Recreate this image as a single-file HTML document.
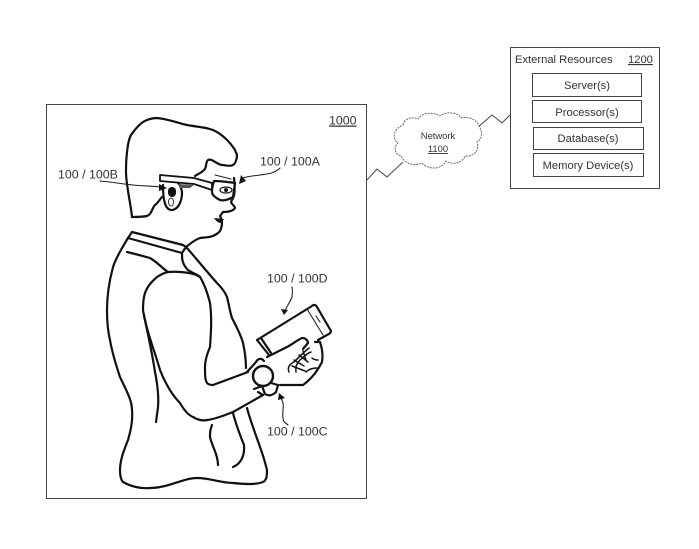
<!DOCTYPE html>
<html><head><meta charset="utf-8"><style>
html,body{margin:0;padding:0;background:#fff}
svg{display:block}
text{font-family:"Liberation Sans",sans-serif;fill:#333}
.b{fill:none;stroke:#111;stroke-width:2.2;stroke-linecap:round;stroke-linejoin:round}
.t{fill:none;stroke:#222;stroke-width:1.1;stroke-linecap:round;stroke-linejoin:round}
.f{fill:none;stroke:#111;stroke-width:1.5;stroke-linecap:round;stroke-linejoin:round}
.g{fill:none;stroke:#444;stroke-width:1}
</style></head><body>
<svg width="699" height="549" viewBox="0 0 699 549" xmlns="http://www.w3.org/2000/svg">
<rect class="g" x="46.5" y="104.5" width="320" height="394"/>
<text x="329" y="124.500" font-size="12.4" text-decoration="underline">1000</text>
<text x="260" y="165.500" font-size="12.4">100 / 100A</text>
<text x="58" y="178.500" font-size="12.4">100 / 100B</text>
<text x="267" y="282.500" font-size="12.4">100 / 100D</text>
<text x="267" y="435.500" font-size="12.4">100 / 100C</text>

<!-- head -->
<path class="b" d="M132 217C131 205 126 185 126 172C126 155 128 140 131 135C136 128 140 124 143 122C148 119 152 118 157 118C168 119 178 123 187 125C197 127 205 127 213 130C222 134 230 142 235 150L237 155C237 160 235 164 233 165C229 167 226 165 222 165C216 164 212 158 208 160C205 163 207 168 204 170C201 173 198 174 195 176"/>
<path class="b" d="M234 178C235 186 235 195 233 198L231 202C232 205 235 206 235 208C233 211 228 212 223 212L220 216C221 218 222 221 222 223C222 228 220 232 218 233C212 238 206 237 200 238C194 240 190 244 186 247"/>
<path class="b" d="M132 217C137 217 142 217 147 216C152 214 152 208 155 205C158 203 160 199 162 197"/>
<!-- ear -->
<path class="b" d="M163 185C163 193 164 202 166 206C168 210 172 211 175 209C179 207 182 200 182 193C182 189 180 185 178 183"/>
<rect x="168" y="187" width="8" height="10" rx="4" fill="#111"/>
<ellipse cx="171" cy="202" rx="2.5" ry="4" fill="none" stroke="#333" stroke-width="1"/>
<!-- glasses -->
<path d="M160 175L194 178L212 183L212 190L194 184L160 181Z" fill="#fff" stroke="#111" stroke-width="1.8" stroke-linejoin="round"/>
<path d="M178 184L194 185L190 188L180 188Z" fill="#555"/>
<path class="b" d="M214 181C220 181 228 182 235 183L233 197C228 200 224 201 220 200C216 198 212 195 212 192C212 188 213 184 214 181Z"/>
<ellipse cx="226" cy="190" rx="6" ry="3" fill="none" stroke="#111" stroke-width="1.2"/>
<circle cx="226" cy="190" r="2" fill="#111"/>
<path class="t" d="M215 175L231 179"/>
<path d="M214 218L224 219L221 223C218 223 216 221 214 218Z" fill="#111"/>

<!-- torso -->
<path class="b" d="M132 232L183 245L186 247L182 253L128 238Z"/>
<path class="b" d="M128 238C122 248 116 258 113 267C109 282 107 296 107 310C107 322 108 332 110 340C112 352 116 365 120 377C126 390 132 400 132 410C133 420 131 430 128 440C124 450 120 460 120 470C120 476 121 480 123 482C130 486 140 489 150 488C168 488 183 478 197 478C210 478 221 483 233 483C243 484 255 485 263 482C267 480 267 475 267 470C265 462 263 455 260 447C256 435 250 420 247 408"/>
<path class="b" d="M127 252C135 254 143 256 150 258C157 262 162 268 168 272"/>
<path class="b" d="M186 247C196 258 207 272 217 283C222 288 225 292 227 297C229 305 230 312 232 318C236 326 241 335 243 343C245 352 246 360 246 368"/>
<path class="b" d="M182 253C182 258 182 260 183 262C184 266 186 268 188 270C192 273 197 274 200 277"/>
<!-- arm -->
<path class="b" d="M200 277C195 273 180 271 168 272C163 273 160 275 157 277C151 282 147 287 145 293C143 299 143 305 143 310C146 330 155 352 160 370C166 385 172 395 180 403C184 410 188 415 193 417C198 420 203 421 207 420C216 419 225 415 233 412C244 406 254 400 263 395"/>
<path class="b" d="M144 315C148 335 152 352 155 372C157 382 159 395 158 407L156 422"/>
<path class="b" d="M200 277C205 285 208 295 210 303C212 318 211 333 210 347C207 354 205 360 205 367C205 374 205 380 207 383C209 385 211 385 213 385L248 372"/>
<!-- lower lines -->
<path class="b" d="M212 425C210 430 210 433 210 437C212 446 218 455 218 465"/>
<path class="b" d="M233 413C236 425 240 435 244 445C245 455 241 464 233 467"/>

<!-- phone -->
<path class="b" d="M257 340L312 306C314 304 316 305 317 307L331 331C331 333 329 334 327 335L318 340"/>
<path class="b" d="M257 340L269 355M261 338L271 353"/>
<path class="t" d="M307 309L323 335M316 316L320 322"/>
<!-- hand -->
<path class="b" d="M267 357L287 347C293 344 297 340 302 338C305 338 308 340 308 343L303 349"/>
<path class="b" d="M315 342L320 342C322 348 323 356 322 362C317 372 310 380 303 385L280 385"/>
<path class="f" d="M289 372C287 367 290 364 294 362C299 357 304 352 309 348M296 372C295 367 297 363 300 360C304 357 307 353 311 352M292 366L305 371M294 360L304 366M299 355L308 362M303 351L306 360M306 372C309 369 312 368 317 368M312 358C314 360 316 360 318 360"/>
<!-- watch -->
<path class="b" d="M247 372L256 362C258 358 262 358 264 361"/>
<circle cx="263" cy="376" r="10" fill="#fff" stroke="#111" stroke-width="2.4"/>
<path class="b" d="M271 383L278 385L276 392C272 396 268 396 265 394L262 386"/>
<path class="b" d="M263 395L258 392M254 389L262 386"/>

<!-- leaders -->
<path class="t" d="M280 168C274 174 266 174 260 175C254 176 248 176 243 178L241 181"/>
<path d="M239 184L241 175L246 181Z" fill="#111"/>
<path class="t" d="M100 181C112 182 122 184 133 185C143 186 152 186 160 187"/>
<path d="M167 188L159 184L159 191Z" fill="#111"/>
<path class="t" d="M292 287C293 291 292 295 292 297C290 302 287 306 285 311"/>
<path d="M284 315L281 309L288 310Z" fill="#111"/>
<path class="t" d="M288 425C284 422 283 421 283 418C282 412 284 408 283 403L281 398"/>
<path d="M279 393L278 400L285 398Z" fill="#111"/>

<!-- network -->
<path class="g" d="M367 180L377 169L387 177L403 162"/>
<path class="g" d="M478 127L492 115L502 123L510 115"/>
<path d="M403 125C404 119 412 116 418 119C422 112 434 112 440 116C446 111 458 112 461 118C467 116 477 119 479 126C483 132 482 140 477 142C480 150 474 157 465 156C462 164 451 165 446 161C442 170 428 170 422 163C414 167 404 163 401 156C395 155 393 147 398 143C392 139 393 129 403 125Z" fill="#fff" stroke="#666" stroke-width="1" stroke-dasharray="2 1"/>
<text x="438" y="139" font-size="9.400" text-anchor="middle">Network</text>
<text x="438" y="152" font-size="9.400" text-anchor="middle" text-decoration="underline">1100</text>

<!-- external resources -->
<rect class="g" x="510.5" y="47.5" width="149" height="141"/>
<text x="515" y="63" font-size="11.200">External Resources</text>
<text x="628" y="63" font-size="11.200" text-decoration="underline">1200</text>
<rect class="g" x="532.5" y="73.5" width="109" height="23"/>
<rect class="g" x="532.5" y="100.5" width="109" height="22"/>
<rect class="g" x="533.5" y="127.5" width="110" height="22"/>
<rect class="g" x="533.5" y="153.5" width="110" height="23"/>
<text x="587" y="89" font-size="11.200" text-anchor="middle">Server(s)</text>
<text x="587" y="116" font-size="11.200" text-anchor="middle">Processor(s)</text>
<text x="588" y="142" font-size="11.200" text-anchor="middle">Database(s)</text>
<text x="588" y="169" font-size="11.200" text-anchor="middle">Memory Device(s)</text>
</svg>
</body></html>
